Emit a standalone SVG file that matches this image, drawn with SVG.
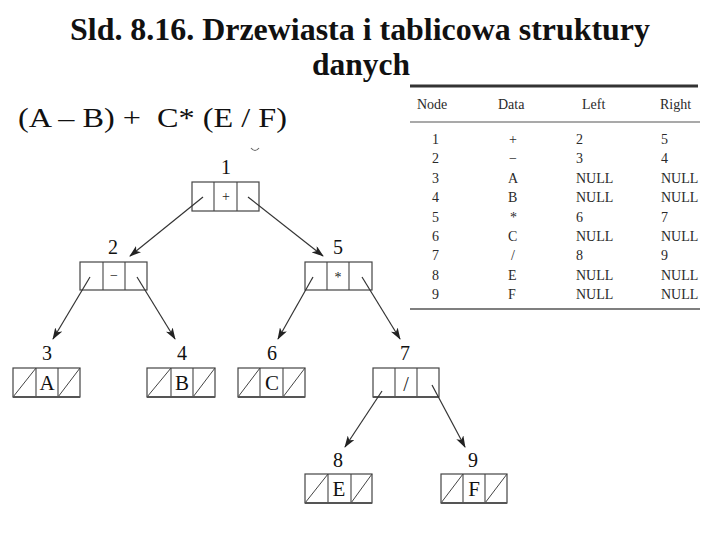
<svg xmlns="http://www.w3.org/2000/svg" width="720" height="540" viewBox="0 0 720 540">
<style>
.title{font-family:"Liberation Serif","Times New Roman",serif;font-weight:bold;font-size:32px;fill:#111}
.formula{font-family:"Liberation Serif","Times New Roman",serif;font-size:28px;fill:#111}
.th{font-family:"Liberation Serif","Times New Roman",serif;font-size:14px;fill:#2a2a2a}
.td{font-family:"Liberation Serif","Times New Roman",serif;font-size:14px;fill:#2a2a2a}
.num{font-family:"Liberation Serif","Times New Roman",serif;font-size:20px;fill:#111;text-anchor:middle}
.sym{font-family:"Liberation Serif","Times New Roman",serif;font-size:14px;fill:#222;text-anchor:middle}
.slash{font-family:"Liberation Serif","Times New Roman",serif;font-size:20px;fill:#222;text-anchor:middle}
.leaf{font-family:"Liberation Serif","Times New Roman",serif;font-size:21px;fill:#111;text-anchor:middle}
.box{fill:#fff;stroke:#444;stroke-width:1.2}
.div{stroke:#444;stroke-width:1.1}
.diag{stroke:#444;stroke-width:1}
.base{stroke:#555;stroke-width:2}
.arrow{stroke:#333;stroke-width:1.2;fill:none;marker-end:url(#ah)}
</style>
<defs>
<marker id="ah" viewBox="0 0 12 8" refX="11" refY="4" markerWidth="12" markerHeight="8" markerUnits="userSpaceOnUse" orient="auto">
<path d="M0,0 L12,4 L0,8 L3,4 Z" fill="#222"/>
</marker>
</defs>
<rect width="720" height="540" fill="#fff"/>

<g id="title">
<text class="title" x="70" y="40" textLength="580" lengthAdjust="spacingAndGlyphs">Sld. 8.16. Drzewiasta i tablicowa struktury</text>
<text class="title" x="312" y="75" textLength="98" lengthAdjust="spacingAndGlyphs">danych</text>
</g>
<g id="formula">
<text class="formula" x="18" y="127" textLength="269" lengthAdjust="spacingAndGlyphs">(A – B) +&#160; C* (E / F)</text>
</g>

<g id="table">
<line x1="410" y1="86" x2="698" y2="86" stroke="#333" stroke-width="3"/>
<line x1="410" y1="122" x2="700" y2="122" stroke="#555" stroke-width="1.2"/>
<line x1="410" y1="309" x2="700" y2="309" stroke="#555" stroke-width="1.5"/>
<text class="th" x="417" y="109">Node</text>
<text class="th" x="498" y="109">Data</text>
<text class="th" x="582" y="109">Left</text>
<text class="th" x="660" y="109">Right</text>
<g class="td">
<text x="432" y="144">1</text><text x="509" y="144">+</text><text x="576" y="144">2</text><text x="661" y="144">5</text>
<text x="432" y="163">2</text><text x="509" y="163">−</text><text x="576" y="163">3</text><text x="661" y="163">4</text>
<text x="432" y="183">3</text><text x="508" y="183">A</text><text x="576" y="183">NULL</text><text x="661" y="183">NULL</text>
<text x="432" y="202">4</text><text x="508" y="202">B</text><text x="576" y="202">NULL</text><text x="661" y="202">NULL</text>
<text x="432" y="222">5</text><text x="510" y="222">*</text><text x="576" y="222">6</text><text x="661" y="222">7</text>
<text x="432" y="241">6</text><text x="508" y="241">C</text><text x="576" y="241">NULL</text><text x="661" y="241">NULL</text>
<text x="432" y="260">7</text><text x="511" y="260">/</text><text x="576" y="260">8</text><text x="661" y="260">9</text>
<text x="432" y="280">8</text><text x="508" y="280">E</text><text x="576" y="280">NULL</text><text x="661" y="280">NULL</text>
<text x="432" y="299">9</text><text x="508" y="299">F</text><text x="576" y="299">NULL</text><text x="661" y="299">NULL</text>
</g>
</g>

<path d="M251,148 Q255,153 259,148" fill="none" stroke="#666" stroke-width="1.2"/>

<g id="n1">
<text class="num" x="226" y="174">1</text>
<rect class="box" x="192" y="182" width="67" height="29"/>
<line class="div" x1="214" y1="182" x2="214" y2="211"/><line class="div" x1="237" y1="182" x2="237" y2="211"/>
<text class="sym" x="226" y="201">+</text>
</g>
<g id="n2">
<text class="num" x="113" y="254">2</text>
<rect class="box" x="80" y="262" width="67" height="28"/>
<line class="div" x1="103" y1="262" x2="103" y2="290"/><line class="div" x1="125" y1="262" x2="125" y2="290"/>
<text class="sym" x="114" y="280">−</text>
</g>
<g id="n5">
<text class="num" x="338" y="254">5</text>
<rect class="box" x="305" y="262" width="67" height="28"/>
<line class="div" x1="327" y1="262" x2="327" y2="290"/><line class="div" x1="349" y1="262" x2="349" y2="290"/>
<text class="sym" x="338" y="282">*</text>
</g>
<g id="n3">
<text class="num" x="47" y="360">3</text>
<rect class="box" x="13" y="368" width="67" height="29"/>
<line class="div" x1="36" y1="368" x2="36" y2="397"/><line class="div" x1="58" y1="368" x2="58" y2="397"/>
<line class="diag" x1="13" y1="397" x2="36" y2="368"/><line class="diag" x1="58" y1="397" x2="80" y2="368"/>
<line class="base" x1="13" y1="397" x2="80" y2="397"/>
<text class="leaf" x="47" y="390">A</text>
</g>
<g id="n4">
<text class="num" x="182" y="360">4</text>
<rect class="box" x="147" y="368" width="68" height="29"/>
<line class="div" x1="171" y1="368" x2="171" y2="397"/><line class="div" x1="193" y1="368" x2="193" y2="397"/>
<line class="diag" x1="147" y1="397" x2="171" y2="368"/><line class="diag" x1="193" y1="397" x2="215" y2="368"/>
<line class="base" x1="147" y1="397" x2="215" y2="397"/>
<text class="leaf" x="182" y="390">B</text>
</g>
<g id="n6">
<text class="num" x="272" y="360">6</text>
<rect class="box" x="238" y="368" width="67" height="29"/>
<line class="div" x1="260" y1="368" x2="260" y2="397"/><line class="div" x1="283" y1="368" x2="283" y2="397"/>
<line class="diag" x1="238" y1="397" x2="260" y2="368"/><line class="diag" x1="283" y1="397" x2="305" y2="368"/>
<line class="base" x1="238" y1="397" x2="305" y2="397"/>
<text class="leaf" x="272" y="390">C</text>
</g>
<g id="n7">
<text class="num" x="405" y="360">7</text>
<rect class="box" x="373" y="368" width="66" height="29"/>
<line class="div" x1="395" y1="368" x2="395" y2="397"/><line class="div" x1="417" y1="368" x2="417" y2="397"/>
<line class="base" x1="373" y1="397" x2="439" y2="397"/>
<text class="slash" x="406" y="391">/</text>
</g>
<g id="n8">
<text class="num" x="338" y="467">8</text>
<rect class="box" x="305" y="474" width="67" height="29"/>
<line class="div" x1="328" y1="474" x2="328" y2="503"/><line class="div" x1="351" y1="474" x2="351" y2="503"/>
<line class="diag" x1="305" y1="503" x2="328" y2="474"/><line class="diag" x1="351" y1="503" x2="372" y2="474"/>
<line class="base" x1="305" y1="503" x2="372" y2="503"/>
<text class="leaf" x="339" y="496">E</text>
</g>
<g id="n9">
<text class="num" x="473" y="467">9</text>
<rect class="box" x="441" y="474" width="66" height="29"/>
<line class="div" x1="463" y1="474" x2="463" y2="503"/><line class="div" x1="485" y1="474" x2="485" y2="503"/>
<line class="diag" x1="441" y1="503" x2="463" y2="474"/><line class="diag" x1="485" y1="503" x2="507" y2="474"/>
<line class="base" x1="441" y1="503" x2="507" y2="503"/>
<text class="leaf" x="474" y="496">F</text>
</g>

<g id="connectors">
<line class="arrow" x1="203" y1="197" x2="130" y2="256"/>
<line class="arrow" x1="248" y1="197" x2="323" y2="256"/>
<line class="arrow" x1="90" y1="277" x2="53" y2="339"/>
<line class="arrow" x1="137" y1="277" x2="175" y2="339"/>
<line class="arrow" x1="313" y1="277" x2="278" y2="339"/>
<line class="arrow" x1="362" y1="277" x2="400" y2="339"/>
<line class="arrow" x1="382" y1="391" x2="345" y2="447"/>
<line class="arrow" x1="432" y1="385" x2="465" y2="447"/>
</g>
</svg>
